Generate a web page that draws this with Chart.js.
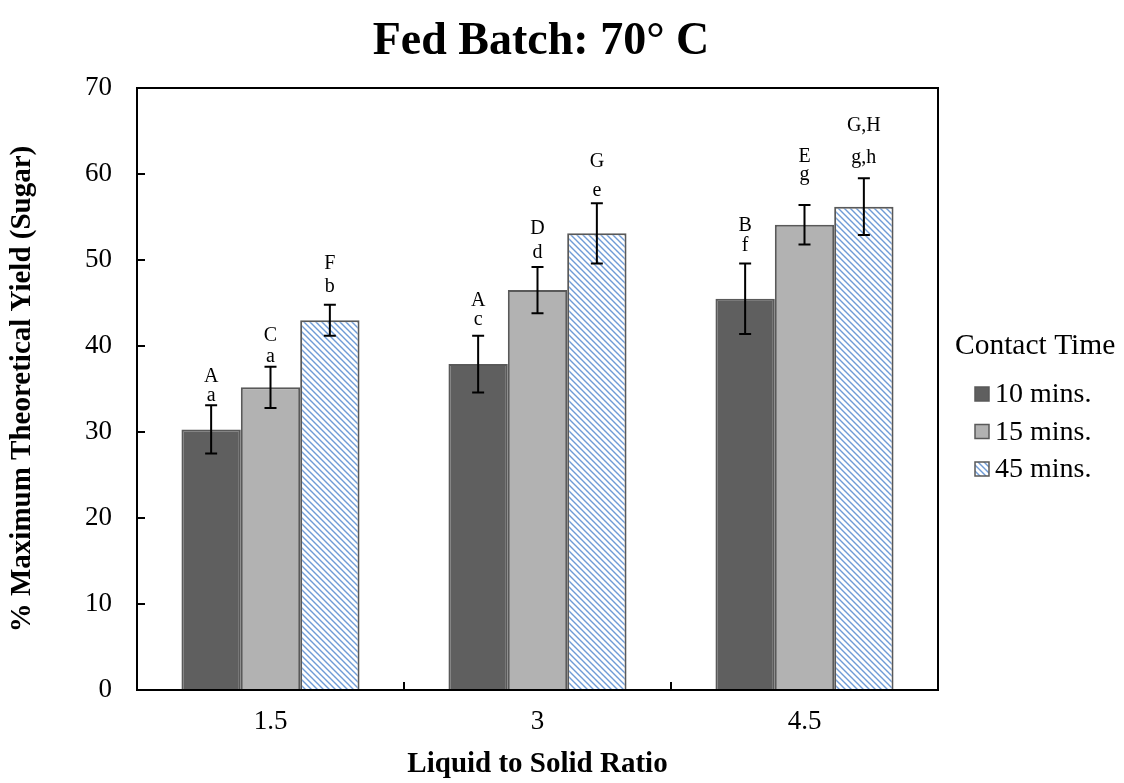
<!DOCTYPE html>
<html>
<head>
<meta charset="utf-8">
<title>Fed Batch: 70° C</title>
<script src="https://cdn.jsdelivr.net/npm/chart.js@4.4.1/dist/chart.umd.min.js"></script>
<style>
  html, body { margin: 0; padding: 0; background: #fff; }
  #wrap { width: 1124px; height: 783px; position: relative; }
</style>
</head>
<body>
<div id="wrap"><canvas id="yieldChart"></canvas></div>
<script>
// liquid to solid ratio groups
const ratios = ['1.5', '3', '4.5'];
const contactTimes = ['10 mins.', '15 mins.', '45 mins.'];

// % maximum theoretical yield (sugar) for each contact time
const yield10 = [30.3, 37.9, 45.5];
const yield15 = [35.2, 46.5, 54.1];
const yield45 = [43.0, 53.1, 56.2];

// +/- error
const err10 = [2.8, 3.3, 4.1];
const err15 = [2.4, 2.7, 2.3];
const err45 = [1.8, 3.5, 3.3];

// significance letters
const upper10 = ['A', 'A', 'B'];
const lower10 = ['a', 'c', 'f'];
const upper15 = ['C', 'D', 'E'];
const lower15 = ['a', 'd', 'g'];
const upper45 = ['F', 'G', 'G,H'];
const lower45 = ['b', 'e', 'g,h'];

const yTicks = [0, 10, 20, 30, 40, 50, 60, 70];

const SERIF = '"Liberation Serif", "Times New Roman", serif';

// gap (px) from the error cap to the lower letter, then lower -> upper letter
const lowerGap = [[10, 16, 18], [10, 14, 30], [18, 12, 21]];
const upperGap = [[19, 19, 20], [21, 24, 18], [23, 29, 32]];

// blue diagonal hatch for the 45 min bars
function makeHatch() {
  const s = 6;
  const c = document.createElement('canvas');
  c.width = s; c.height = s;
  const g = c.getContext('2d');
  g.fillStyle = '#ffffff';
  g.fillRect(0, 0, s, s);
  g.strokeStyle = '#6f9bd6';
  g.lineWidth = 1.4;
  g.beginPath();
  g.moveTo(-1, -1); g.lineTo(s + 1, s + 1);
  g.moveTo(s - 1, -1); g.lineTo(s + 1, 1);
  g.moveTo(-1, s - 1); g.lineTo(1, s + 1);
  g.stroke();
  return g.createPattern(c, 'repeat');
}
const hatch = makeHatch();

const errors = [err10, err15, err45];
const uppers = [upper10, upper15, upper45];
const lowers = [lower10, lower15, lower45];

// title, error bars, letters, frame, inward ticks and the legend
const decorations = {
  id: 'decorations',
  afterDatasetsDraw(chart) {
    const ctx = chart.ctx;
    const y = chart.scales.y;
    const x = chart.scales.x;
    const area = chart.chartArea;

    ctx.save();
    ctx.fillStyle = '#000';
    ctx.font = 'bold 46px ' + SERIF;
    ctx.textAlign = 'center';
    ctx.textBaseline = 'middle';
    ctx.fillText('Fed Batch: 70° C', 541, 42);

    chart.data.datasets.forEach((ds, i) => {
      const meta = chart.getDatasetMeta(i);
      meta.data.forEach((bar, j) => {
        const v = ds.data[j];
        const e = errors[i][j];
        const top = y.getPixelForValue(v + e);
        const bot = y.getPixelForValue(v - e);
        const cx = bar.x;
        ctx.strokeStyle = '#000';
        ctx.lineWidth = 2;
        ctx.beginPath();
        ctx.moveTo(cx, top); ctx.lineTo(cx, bot);
        ctx.moveTo(cx - 6, top); ctx.lineTo(cx + 6, top);
        ctx.moveTo(cx - 6, bot); ctx.lineTo(cx + 6, bot);
        ctx.stroke();

        ctx.fillStyle = '#000';
        ctx.font = '20px ' + SERIF;
        ctx.textAlign = 'center';
        ctx.textBaseline = 'middle';
        const ly = top - lowerGap[i][j];
        ctx.fillText(lowers[i][j], cx, ly);
        ctx.fillText(uppers[i][j], cx, ly - upperGap[i][j]);
      });
    });

    // plot frame
    ctx.strokeStyle = '#000';
    ctx.lineWidth = 2;
    ctx.strokeRect(area.left, area.top, area.right - area.left, area.bottom - area.top);

    // inward tick marks
    ctx.beginPath();
    yTicks.forEach(t => {
      const py = Math.round(y.getPixelForValue(t));
      ctx.moveTo(area.left, py); ctx.lineTo(area.left + 8, py);
    });
    for (let k = 1; k < ratios.length; k++) {
      const px = (x.getPixelForValue(k - 1) + x.getPixelForValue(k)) / 2;
      ctx.moveTo(px, area.bottom); ctx.lineTo(px, area.bottom - 8);
    }
    ctx.stroke();

    // legend
    ctx.font = '29.5px ' + SERIF;
    ctx.textAlign = 'left';
    ctx.textBaseline = 'middle';
    ctx.fillStyle = '#000';
    ctx.fillText('Contact Time', 955, 346);
    ctx.font = '28px ' + SERIF;
    chart.data.datasets.forEach((ds, i) => {
      const ry = 394 + i * 37.5;
      ctx.fillStyle = ds.backgroundColor;
      ctx.fillRect(975, ry - 7, 14, 14);
      ctx.strokeStyle = '#595959';
      ctx.lineWidth = 1.5;
      ctx.strokeRect(975, ry - 7, 14, 14);
      ctx.fillStyle = '#000';
      ctx.fillText(ds.label, 995, ry + 1);
    });
    ctx.restore();
  }
};

new Chart(document.getElementById('yieldChart'), {
  type: 'bar',
  data: {
    labels: ratios,
    datasets: [
      { label: contactTimes[0], data: yield10, backgroundColor: '#5f5f5f' },
      { label: contactTimes[1], data: yield15, backgroundColor: '#b2b2b2' },
      { label: contactTimes[2], data: yield45, backgroundColor: hatch }
    ]
  },
  options: {
    responsive: true,
    maintainAspectRatio: false,
    animation: false,
    datasets: {
      bar: {
        borderColor: '#595959',
        borderWidth: 2,
        categoryPercentage: 0.667,
        barPercentage: 1.0
      }
    },
    layout: { padding: { left: 0, right: 186, top: 88, bottom: 0 } },
    plugins: {
      legend: { display: false },
      tooltip: { enabled: false },
      title: { display: false }
    },
    scales: {
      x: {
        grid: { display: false, drawTicks: false },
        border: { display: false },
        ticks: { color: '#000', font: { family: SERIF, size: 27 }, padding: 16 },
        title: {
          display: true,
          text: 'Liquid to Solid Ratio',
          color: '#000',
          font: { family: SERIF, size: 29, weight: 'bold' },
          padding: { top: 0, bottom: 1 }
        },
        afterFit(scale) { scale.height = 93; }
      },
      y: {
        min: 0,
        max: 70,
        grid: { display: false, drawTicks: false },
        border: { display: false },
        ticks: {
          stepSize: 10,
          color: '#000',
          font: { family: SERIF, size: 27 },
          padding: 25
        },
        title: {
          display: true,
          text: '% Maximum Theoretical Yield (Sugar)',
          color: '#000',
          font: { family: SERIF, size: 29, weight: 'bold' },
          padding: { top: 5, bottom: 0 }
        },
        afterFit(scale) { scale.width = 137; }
      }
    }
  },
  plugins: [decorations]
});
</script>
</body>
</html>
